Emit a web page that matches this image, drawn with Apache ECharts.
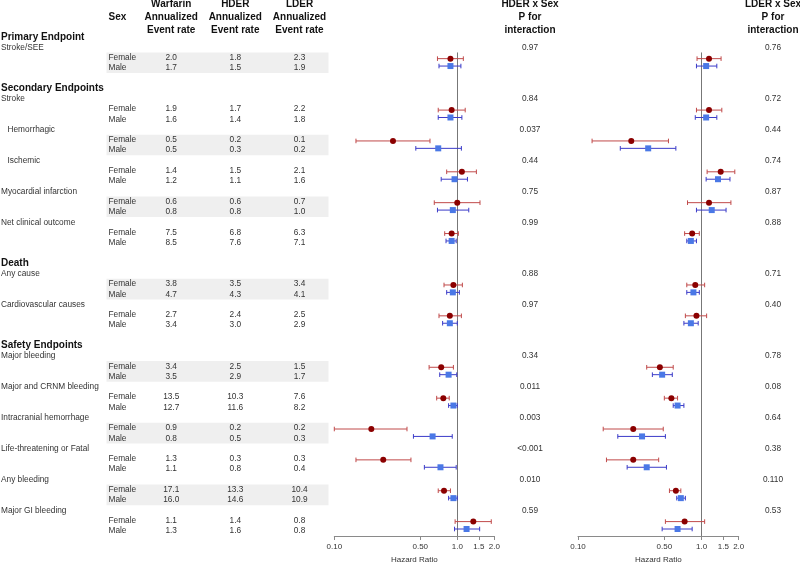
<!DOCTYPE html>
<html><head><meta charset="utf-8">
<script src="https://cdn.jsdelivr.net/npm/echarts@6/dist/echarts.min.js"></script>
<style>html,body{margin:0;padding:0;background:#fff}#c{width:800px;height:563px}</style>
</head><body><div id="c"></div>
<script>
// ---------- DATA ----------
const sections = ['Primary Endpoint', 'Secondary Endpoints', 'Death', 'Safety Endpoints'];
const sectionFirst = [0, 1, 6, 8];
const endpoints = ['Stroke/SEE', 'Stroke', 'Hemorrhagic', 'Ischemic', 'Myocardial infarction', 'Net clinical outcome',
  'Any cause', 'Cardiovascular causes', 'Major bleeding', 'Major and CRNM bleeding', 'Intracranial hemorrhage',
  'Life-threatening or Fatal', 'Any bleeding', 'Major GI bleeding'];
const indented = [false, false, true, true, false, false, false, false, false, false, false, false, false, false];
const sexLabels = ['Female', 'Male'];

const warfarinF = ['2.0','1.9','0.5','1.4','0.6','7.5','3.8','2.7','3.4','13.5','0.9','1.3','17.1','1.1'];
const warfarinM = ['1.7','1.6','0.5','1.2','0.8','8.5','4.7','3.4','3.5','12.7','0.8','1.1','16.0','1.3'];
const hderF     = ['1.8','1.7','0.2','1.5','0.6','6.8','3.5','2.4','2.5','10.3','0.2','0.3','13.3','1.4'];
const hderM     = ['1.5','1.4','0.3','1.1','0.8','7.6','4.3','3.0','2.9','11.6','0.5','0.8','14.6','1.6'];
const lderF     = ['2.3','2.2','0.1','2.1','0.7','6.3','3.4','2.5','1.5','7.6','0.2','0.3','10.4','0.8'];
const lderM     = ['1.9','1.8','0.2','1.6','1.0','7.1','4.1','2.9','1.7','8.2','0.3','0.4','10.9','0.8'];
const pHder = ['0.97','0.84','0.037','0.44','0.75','0.99','0.88','0.97','0.34','0.011','0.003','<0.001','0.010','0.59'];
const pLder = ['0.76','0.72','0.44','0.74','0.87','0.88','0.71','0.40','0.78','0.08','0.64','0.38','0.110','0.53'];

const hderF_hr = [0.88,0.90,0.30,1.09,1.00,0.90,0.93,0.87,0.74,0.77,0.20,0.25,0.78,1.35];
const hderF_lo = [0.69,0.70,0.15,0.82,0.65,0.79,0.78,0.71,0.59,0.68,0.10,0.15,0.70,0.96];
const hderF_hi = [1.12,1.16,0.60,1.43,1.53,1.02,1.10,1.08,0.93,0.86,0.39,0.42,0.88,1.89];
const hderM_hr = [0.88,0.88,0.70,0.95,0.92,0.90,0.92,0.87,0.85,0.93,0.63,0.73,0.93,1.19];
const hderM_lo = [0.71,0.70,0.46,0.74,0.69,0.81,0.82,0.76,0.72,0.85,0.44,0.54,0.85,0.95];
const hderM_hi = [1.07,1.09,1.08,1.21,1.24,0.98,1.04,1.00,0.99,1.00,0.91,0.98,1.00,1.52];
const lderF_hr = [1.15,1.15,0.27,1.43,1.15,0.84,0.89,0.91,0.46,0.57,0.28,0.28,0.62,0.73];
const lderF_lo = [0.92,0.91,0.13,1.11,0.77,0.73,0.76,0.74,0.36,0.50,0.16,0.17,0.55,0.51];
const lderF_hi = [1.44,1.46,0.54,1.86,1.73,0.96,1.06,1.10,0.59,0.64,0.49,0.45,0.68,1.06];
const lderM_hr = [1.09,1.09,0.37,1.36,1.21,0.82,0.86,0.82,0.48,0.64,0.33,0.36,0.68,0.64];
const lderM_lo = [0.91,0.89,0.22,1.09,0.91,0.76,0.76,0.72,0.40,0.59,0.21,0.25,0.63,0.48];
const lderM_hi = [1.33,1.33,0.62,1.70,1.58,0.91,0.96,0.94,0.58,0.72,0.51,0.52,0.74,0.84];

const tickValues = [0.1, 0.5, 1, 1.5, 2];
const tickLabels = ['0.10', '0.50', '1.0', '1.5', '2.0'];
const headerWarf = ['Warfarin', 'Annualized', 'Event rate'];
const headerHder = ['HDER', 'Annualized', 'Event rate'];
const headerLder = ['LDER', 'Annualized', 'Event rate'];
const headerPH = ['HDER x Sex', 'P for', 'interaction'];
const headerPL = ['LDER x Sex', 'P for', 'interaction'];
const headerSex = 'Sex';
const axisTitle = 'Hazard Ratio';

// ---------- LAYOUT / STYLE ----------
const L = {
  rowMin: -3.6, rowMax: 48.5, bottom: 27,
  colLabel: 1, colIndent: 7.5, colSex: 108.5, colWarf: 171.2, colHder: 235.3, colLder: 299.5,
  colPH: 530, colPL: 773, bandX0: 106.5, bandX1: 328.5,
  headRows: [-3.2, -1.95, -0.68], fOff: 0.1, mOff: 0.82, refStart: 1.5
};
const FONT = '"Liberation Sans", Arial, Helvetica, sans-serif';
const fBold = 'bold 10px ' + FONT;
const fReg = '8.3px ' + FONT;
const cText = '#333333', cHead = '#111111';
const cFemDot = '#8b0000', cFemBar = '#c04a4a', cMalDot = '#4a78e6', cMalBar = '#3a3ac8';

// ---------- ROW STRUCTURE ----------
let row = 0;
const rowOfItem = [], sectionRow = [];
sections.forEach((s, si) => {
  if (si > 0) row++;
  sectionRow.push(row); row++;
  const end = si + 1 < sections.length ? sectionFirst[si + 1] : endpoints.length;
  for (let k = sectionFirst[si]; k < end; k++) { rowOfItem[k] = row; row += 3; }
});

// ---------- TEXT CELLS ----------
const cells = [];
function cell(x, r, text, font, color, align) { cells.push({ x, r, text, font, color, align }); }
L.headRows.forEach((r, i) => {
  cell(L.colWarf, r, headerWarf[i], fBold, cHead, 'center');
  cell(L.colHder, r, headerHder[i], fBold, cHead, 'center');
  cell(L.colLder, r, headerLder[i], fBold, cHead, 'center');
  cell(L.colPH, r, headerPH[i], fBold, cHead, 'center');
  cell(L.colPL, r, headerPL[i], fBold, cHead, 'center');
});
cell(L.colSex, L.headRows[1], headerSex, fBold, cHead, 'left');
sections.forEach((s, si) => cell(L.colLabel, sectionRow[si], s, fBold, cHead, 'left'));
endpoints.forEach((e, k) => {
  const r = rowOfItem[k];
  cell(indented[k] ? L.colIndent : L.colLabel, r, e, fReg, cText, 'left');
  cell(L.colPH, r, pHder[k], fReg, cText, 'center');
  cell(L.colPL, r, pLder[k], fReg, cText, 'center');
  cell(L.colSex, r + 1, sexLabels[0], fReg, cText, 'left');
  cell(L.colSex, r + 2, sexLabels[1], fReg, cText, 'left');
  cell(L.colWarf, r + 1, warfarinF[k], fReg, cText, 'center');
  cell(L.colWarf, r + 2, warfarinM[k], fReg, cText, 'center');
  cell(L.colHder, r + 1, hderF[k], fReg, cText, 'center');
  cell(L.colHder, r + 2, hderM[k], fReg, cText, 'center');
  cell(L.colLder, r + 1, lderF[k], fReg, cText, 'center');
  cell(L.colLder, r + 2, lderM[k], fReg, cText, 'center');
});

// ---------- SERIES HELPERS ----------
const lg = v => Math.log10(v);
function errSeries(ai, lo, hi, off, color) {
  return {
    type: 'custom', xAxisIndex: ai, yAxisIndex: ai, silent: true, z: 3,
    encode: { x: [0, 1], y: 2 },
    data: lo.map((v, k) => [lg(v), lg(hi[k]), rowOfItem[k] + 1 + off]),
    renderItem: (params, api) => {
      const a = api.coord([api.value(0), api.value(2)]);
      const b = api.coord([api.value(1), api.value(2)]);
      const h = 2.3, st = { stroke: color, lineWidth: 1 };
      return { type: 'group', children: [
        { type: 'line', shape: { x1: a[0], y1: a[1], x2: b[0], y2: b[1] }, style: st },
        { type: 'line', shape: { x1: a[0], y1: a[1] - h, x2: a[0], y2: a[1] + h }, style: st },
        { type: 'line', shape: { x1: b[0], y1: b[1] - h, x2: b[0], y2: b[1] + h }, style: st }
      ]};
    }
  };
}
function ptSeries(ai, hr, off, symbol, color, withRef) {
  const s = {
    type: 'scatter', xAxisIndex: ai, yAxisIndex: ai, silent: true, z: 4,
    symbol: symbol, symbolSize: 6, itemStyle: { color: color, opacity: 1 },
    data: hr.map((v, k) => [lg(v), rowOfItem[k] + 1 + off])
  };
  if (withRef) {
    s.markLine = {
      silent: true, symbol: ['none', 'none'], label: { show: false }, z: 1,
      lineStyle: { color: '#777', width: 1, type: 'solid' },
      data: [[{ coord: [0, L.refStart] }, { coord: [0, L.rowMax] }]]
    };
  }
  return s;
}
function hrAxis(gi) {
  const tv = tickValues.map(lg);
  return {
    gridIndex: gi, type: 'value', min: -1, max: lg(2),
    axisLine: { show: true, onZero: false, lineStyle: { color: '#8a8a8a', width: 1 } },
    axisTick: { show: true, customValues: tv, length: 4, lineStyle: { color: '#8a8a8a' } },
    axisLabel: {
      show: true, customValues: tv, margin: 7, fontSize: 8, color: '#333', fontFamily: FONT,
      formatter: v => { const i = tv.findIndex(t => Math.abs(t - v) < 1e-6); return i >= 0 ? tickLabels[i] : ''; }
    },
    splitLine: { show: false },
    name: axisTitle, nameLocation: 'middle', nameGap: 17,
    nameTextStyle: { fontSize: 8, color: '#333', fontFamily: FONT }
  };
}
function rowAxis(gi) {
  return { gridIndex: gi, type: 'value', inverse: true, min: L.rowMin, max: L.rowMax, show: false };
}

const shadedItems = endpoints.map((e, k) => k).filter(k => k % 2 === 0);

const option = {
  animation: false,
  backgroundColor: '#fff',
  grid: [
    { left: 0, right: 0, top: 0, bottom: L.bottom, outerBoundsMode: 'none' },
    { left: 334.3, width: 160, top: 0, bottom: L.bottom, outerBoundsMode: 'none' },
    { left: 578, width: 160.7, top: 0, bottom: L.bottom, outerBoundsMode: 'none' }
  ],
  xAxis: [
    { gridIndex: 0, type: 'value', min: 0, max: 800, show: false },
    hrAxis(1), hrAxis(2)
  ],
  yAxis: [rowAxis(0), rowAxis(1), rowAxis(2)],
  series: [
    {
      type: 'custom', xAxisIndex: 0, yAxisIndex: 0, silent: true, z: 0,
      encode: { x: [0, 2], y: [1, 3] },
      data: shadedItems.map(k => [L.bandX0, rowOfItem[k] + 0.5, L.bandX1, rowOfItem[k] + 2.5]),
      renderItem: (params, api) => {
        const a = api.coord([api.value(0), api.value(1)]);
        const b = api.coord([api.value(2), api.value(3)]);
        return { type: 'rect', shape: { x: a[0], y: a[1], width: b[0] - a[0], height: b[1] - a[1] },
                 style: { fill: '#efefef' } };
      }
    },
    {
      type: 'custom', xAxisIndex: 0, yAxisIndex: 0, silent: true, z: 2,
      encode: { x: 0, y: 1 },
      data: cells.map((c, i) => [c.x, c.r, i]),
      renderItem: (params, api) => {
        const c = cells[api.value(2)];
        const p = api.coord([api.value(0), api.value(1)]);
        return { type: 'text', x: p[0], y: p[1],
          style: { text: c.text, fill: c.color, font: c.font, align: c.align, verticalAlign: 'middle',
                   textAlign: c.align, textVerticalAlign: 'middle' } };
      }
    },
    errSeries(1, hderF_lo, hderF_hi, L.fOff, cFemBar),
    errSeries(1, hderM_lo, hderM_hi, L.mOff, cMalBar),
    ptSeries(1, hderF_hr, L.fOff, 'circle', cFemDot, true),
    ptSeries(1, hderM_hr, L.mOff, 'rect', cMalDot, false),
    errSeries(2, lderF_lo, lderF_hi, L.fOff, cFemBar),
    errSeries(2, lderM_lo, lderM_hi, L.mOff, cMalBar),
    ptSeries(2, lderF_hr, L.fOff, 'circle', cFemDot, true),
    ptSeries(2, lderM_hr, L.mOff, 'rect', cMalDot, false)
  ]
};
const chart = echarts.init(document.getElementById('c'), null, { renderer: 'canvas' });
chart.setOption(option);
</script>
</body></html>
